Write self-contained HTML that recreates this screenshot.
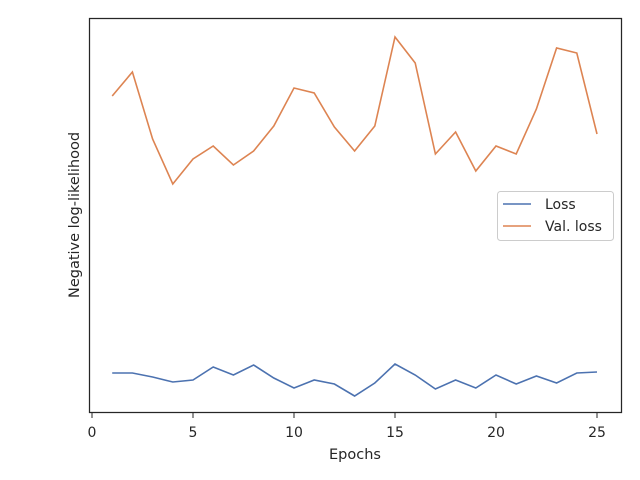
<!DOCTYPE html>
<html><head><meta charset="utf-8"><style>
body{margin:0;background:#fff;}
svg{display:block;font-family:"DejaVu Sans","Liberation Sans",sans-serif;}
</style></head><body>
<svg id="c" width="640" height="480">
<rect x="89.5" y="18.5" width="532" height="394" fill="none" stroke="#262626" stroke-width="1.25"/>
<g id="ticks"></g>
<g id="lines"></g>
<text x="355" y="459" text-anchor="middle" font-size="14.5" fill="#262626">Epochs</text>
<text transform="translate(79,215) rotate(-90)" text-anchor="middle" font-size="14.5" fill="#262626">Negative log-likelihood</text>
<g>
<rect x="497.5" y="191.5" width="116" height="49" rx="3" fill="#fff" stroke="#ccc"/>
<line x1="503" y1="204" x2="531" y2="204" stroke="#4c72b0" stroke-width="1.5"/>
<text x="545" y="209" font-size="14" fill="#262626">Loss</text>
<line x1="503" y1="226" x2="531" y2="226" stroke="#dd8452" stroke-width="1.5"/>
<text x="545" y="231" font-size="14" fill="#262626">Val. loss</text>
</g>
</svg>
<script>
const epochs=[1,2,3,4,5,6,7,8,9,10,11,12,13,14,15,16,17,18,19,20,21,22,23,24,25];
const loss=[39,39,35,30,32,45,37,47,34,24,32,28,16,29,48,37,23,32,24,37,28,36,29,39,40];
const valLoss=[316,340,273,228,253,266,247,261,286,324,319,285,261,286,375,349,258,280,241,266,258,303,364,359,278];
const xTicks=[0,5,10,15,20,25];
const X=v=>92+v*20.2;
const Y=v=>412-v;
const ns="http://www.w3.org/2000/svg";
const tg=document.getElementById('ticks');
xTicks.forEach(t=>{
 const l=document.createElementNS(ns,'line');
 l.setAttribute('x1',X(t));l.setAttribute('x2',X(t));l.setAttribute('y1',413);l.setAttribute('y2',418);
 l.setAttribute('stroke','#262626');
 
 
 tg.appendChild(l);
 const tx=document.createElementNS(ns,'text');
 tx.setAttribute('x',X(t));tx.setAttribute('y',437);tx.setAttribute('text-anchor','middle');
 tx.setAttribute('font-size','14');tx.setAttribute('fill','#262626');
 tx.textContent=t;
 
 
 tg.appendChild(tx);
});
const lg=document.getElementById('lines');
function draw(vals,color,name){
 const p=document.createElementNS(ns,'polyline');
 p.setAttribute('points',vals.map((v,i)=>X(epochs[i])+','+Y(v)).join(' '));
 p.setAttribute('fill','none');p.setAttribute('stroke',color);p.setAttribute('stroke-width','1.6');
 
 
 lg.appendChild(p);
}
draw(loss,'#4c72b0','loss-line');
draw(valLoss,'#dd8452','val-loss-line');
</script>
</body></html>
